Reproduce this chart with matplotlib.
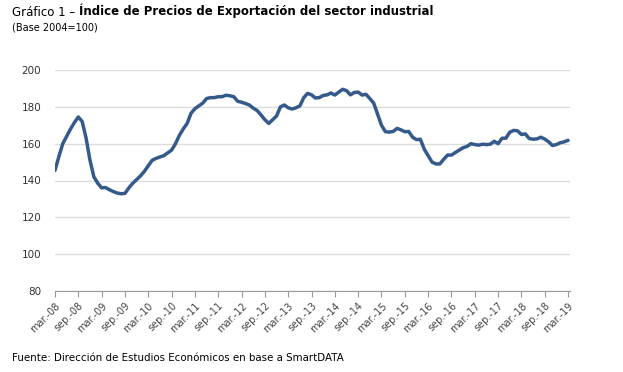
import matplotlib
matplotlib.use('Agg')
import matplotlib.pyplot as plt
import numpy as np

# monthly index, mar-08 .. mar-19
values = [
    145.5, 153, 160, 164, 168, 171.5, 174.5, 172, 163, 151,
    142, 138.5, 136, 136.2, 135, 134, 133.2, 132.8, 133, 136,
    138.5, 140.5, 142.5, 145, 148, 151, 152, 152.8, 153.5, 155,
    156.5, 160, 164.5, 168, 171, 176.5, 179, 180.5, 182, 184.5,
    185, 185, 185.5, 185.5, 186.3, 186, 185.5, 183, 182.5, 181.8,
    181, 179.3, 178, 175.6, 173, 171, 173, 175, 180, 181,
    179.5, 178.8, 179.5, 180.5, 185, 187.3, 186.5, 184.8, 185, 186.2,
    186.5, 187.5, 186.4, 188, 189.5, 188.8, 186.5, 187.8, 188, 186.4,
    186.8, 184.5, 182, 176, 170, 166.5, 166.3, 166.6, 168.3, 167.5,
    166.5, 166.6, 163.5, 162.2, 162.4, 157, 153.5, 150, 149, 149,
    151.5, 153.8, 153.8, 155.2, 156.5, 157.8, 158.5, 160, 159.5, 159.2,
    159.7, 159.5, 159.7, 161.3, 160, 162.9, 163, 166.2, 167.2, 167,
    165, 165.3, 162.8, 162.4, 162.6, 163.5, 162.5, 161, 159, 159.5,
    160.5, 161, 161.8,
]
years = list(range(8, 20))
tick_labels = []
for y in years:
    tick_labels.append(f'mar.-{y:02d}')
    if y < 19:
        tick_labels.append(f'sep.-{y:02d}')

title_a = 'Gráfico 1 – '
title_b = 'Índice de Precios de Exportación del sector industrial'
subtitle = '(Base 2004=100)'
source = 'Fuente: Dirección de Estudios Económicos en base a SmartDATA'

plt.rcParams['font.family'] = ['DejaVu Sans']

fig = plt.figure(figsize=(6.23, 3.72), dpi=100)
ax = fig.add_axes([55 / 623, 1 - 291 / 372, 515 / 623, 221 / 372])

x = np.arange(len(values))
ax.plot(x, values, color='#345a8c', lw=2.5, solid_capstyle='round')

ax.set_ylim(80, 200)
ax.set_yticks(range(80, 201, 20))
ax.set_xlim(0, len(values) - 0.5)
ax.set_xticks(range(0, len(values), 6))
ax.set_xticklabels(tick_labels, rotation=45, ha='right', rotation_mode='anchor')

ax.grid(axis='y', color='#dcdcdc', lw=1)
ax.set_axisbelow(True)
for s in ['top', 'right', 'left']:
    ax.spines[s].set_visible(False)
ax.spines['bottom'].set_color('#999999')
ax.tick_params(axis='y', length=0, pad=10, labelsize=7.5, labelcolor='#333333')
ax.tick_params(axis='x', length=4, color='#999999', pad=3, labelsize=7, labelcolor='#444444')

t1 = fig.text(12 / 623, 1 - 12 / 372, title_a, fontsize=8.5, va='center', ha='left')
ax.annotate(title_b, xy=(1, 0), xycoords=t1, va='bottom', ha='left',
            fontsize=8.5, fontweight='bold')
fig.text(12 / 623, 1 - 28 / 372, subtitle, fontsize=7, va='center', ha='left')
fig.text(12 / 623, 1 - 358 / 372, source, fontsize=7.4, va='center', ha='left')

fig.savefig('out.png', dpi=100)
